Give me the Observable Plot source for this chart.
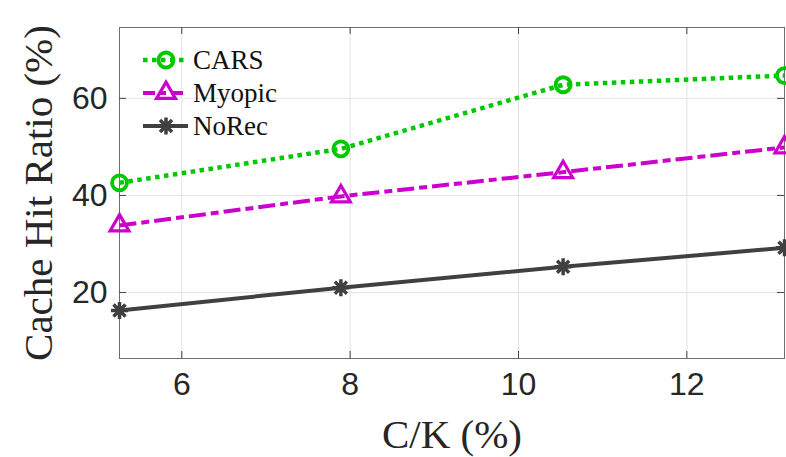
<!DOCTYPE html>
<html>
<head>
<meta charset="utf-8">
<script src="https://cdn.jsdelivr.net/npm/d3@7"></script>
<script src="https://cdn.jsdelivr.net/npm/@observablehq/plot@0.6"></script>
<style>
  html, body { margin: 0; padding: 0; background: #fff; }
  #chart { width: 786px; height: 457px; }
</style>
</head>
<body>
<div id="chart"></div>
<script>
// ---- data ----
const xValues = [5.26, 7.89, 10.53, 13.16];          // C/K (%)
const carsValues = [42.6, 49.6, 62.8, 64.7];
const myopicValues = [33.8, 39.8, 44.8, 49.9];
const norecValues = [16.3, 21.0, 25.3, 29.2];
const seriesNames = ["CARS", "Myopic", "NoRec"];
const xTicks = [6, 8, 10, 12];
const yTicks = [20, 40, 60];
const xLabel = "C/K (%)";
const yLabel = "Cache Hit Ratio (%)";

// ---- styles ----
const green = "#00c800", magenta = "#cc00cc", dark = "#404040";
const serif = "'Liberation Serif', 'Times New Roman', serif";
const sans = "'Liberation Sans', Arial, Helvetica, sans-serif";
const W = 786, H = 457, mL = 119, mR = 2, mT = 27, mB = 99;
const plotW = W - mL - mR, plotH = H - mT - mB, tickLen = 7;

const asterisk = {
  draw(ctx, size) {
    const r = Math.sqrt(size / Math.PI);
    for (let k = 0; k < 4; k++) {
      const a = k * Math.PI / 4;
      ctx.moveTo(r * Math.cos(a), r * Math.sin(a));
      ctx.lineTo(-r * Math.cos(a), -r * Math.sin(a));
    }
  }
};

const mk = (vals) => xValues.map((x, i) => ({x, y: vals[i]}));
const cars = mk(carsValues), myopic = mk(myopicValues), norec = mk(norecValues);

const chart = Plot.plot({
  width: W, height: H,
  marginLeft: mL, marginRight: mR, marginTop: mT, marginBottom: mB,
  x: {domain: [5.26, 13.16]},
  y: {domain: [6.4, 74.6]},
  style: {fontFamily: sans, fontSize: "32px", background: "#fff", color: "#262626", overflow: "visible"},
  marks: [
    Plot.gridX(xTicks, {stroke: "#e3e3e3", strokeOpacity: 1, strokeWidth: 1}),
    Plot.gridY(yTicks, {stroke: "#e3e3e3", strokeOpacity: 1, strokeWidth: 1}),
    Plot.frame({stroke: "#6e6e6e", strokeWidth: 1}),
    Plot.tickY(yTicks, {y: d => d, insetRight: plotW - tickLen, stroke: "#444"}),
    Plot.tickY(yTicks, {y: d => d, insetLeft: plotW - tickLen, stroke: "#444"}),
    Plot.tickX(xTicks, {x: d => d, insetTop: plotH - tickLen, stroke: "#444"}),
    Plot.tickX(xTicks, {x: d => d, insetBottom: plotH - tickLen, stroke: "#444"}),
    Plot.axisX({ticks: xTicks, tickSize: 0, tickPadding: 14, fontSize: 32, fontFamily: sans, label: null}),
    Plot.axisY({ticks: yTicks, tickSize: 0, tickPadding: 12, fontSize: 32, fontFamily: sans, label: null}),
    Plot.text([xLabel], {frameAnchor: "bottom", dy: 89, lineAnchor: "bottom", textAnchor: "middle", text: d => d, fontSize: 41, fontFamily: serif, fill: "#262626"}),
    Plot.text([yLabel], {frameAnchor: "left", dx: -68, rotate: -90, lineAnchor: "bottom", textAnchor: "middle", text: d => d, fontSize: 41, fontFamily: serif, fill: "#262626"}),
    // NoRec
    Plot.line(norec, {x: "x", y: "y", stroke: dark, strokeWidth: 4, strokeLinecap: "butt"}),
    Plot.dot(norec, {x: "x", y: "y", symbol: asterisk, r: 8.5, stroke: dark, strokeWidth: 3.5, fill: "none"}),
    // Myopic
    Plot.line(myopic, {x: "x", y: "y", stroke: magenta, strokeWidth: 4, strokeDasharray: "17,5,8,5", strokeLinecap: "butt"}),
    Plot.dot(myopic, {x: "x", y: "y", symbol: "triangle", r: 7, stroke: magenta, strokeWidth: 3.2, fill: "none"}),
    // CARS
    Plot.line(cars, {x: "x", y: "y", stroke: green, strokeWidth: 4.5, strokeDasharray: "4.5,4.5", strokeLinecap: "butt"}),
    Plot.dot(cars, {x: "x", y: "y", symbol: "circle", r: 7.5, stroke: green, strokeWidth: 3.8, fill: "none"})
  ]
});
document.getElementById("chart").appendChild(chart);

// ---- legend (inside the axes, top-left) ----
const svg = d3.select(chart);
const legend = svg.append("g").attr("text-anchor", "start");
const legendStyles = [
  {color: green, dash: "4.5,4.5", width: 4.5, sym: d3.symbolCircle, r: 7.5, sw: 3.8},
  {color: magenta, dash: "12,5,6,5", width: 4, sym: d3.symbolTriangle, r: 7, sw: 3.2},
  {color: dark, dash: null, width: 4, sym: asterisk, r: 8.5, sw: 3.5}
];
seriesNames.forEach((name, i) => {
  const s = legendStyles[i];
  const cy = 60 + i * 33;
  const g = legend.append("g");
  g.append("line").attr("x1", 143).attr("x2", 188).attr("y1", cy).attr("y2", cy)
    .attr("stroke", s.color).attr("stroke-width", s.width)
    .attr("stroke-dasharray", s.dash);
  g.append("path").attr("transform", `translate(166,${cy})`)
    .attr("d", d3.symbol(s.sym, Math.PI * s.r * s.r)())
    .attr("fill", "none").attr("stroke", s.color).attr("stroke-width", s.sw);
  g.append("text").attr("x", 193).attr("y", cy + 9).attr("text-anchor", "start")
    .attr("font-family", serif).attr("font-size", 27).attr("fill", "#111")
    .text(name);
});
</script>
</body>
</html>
